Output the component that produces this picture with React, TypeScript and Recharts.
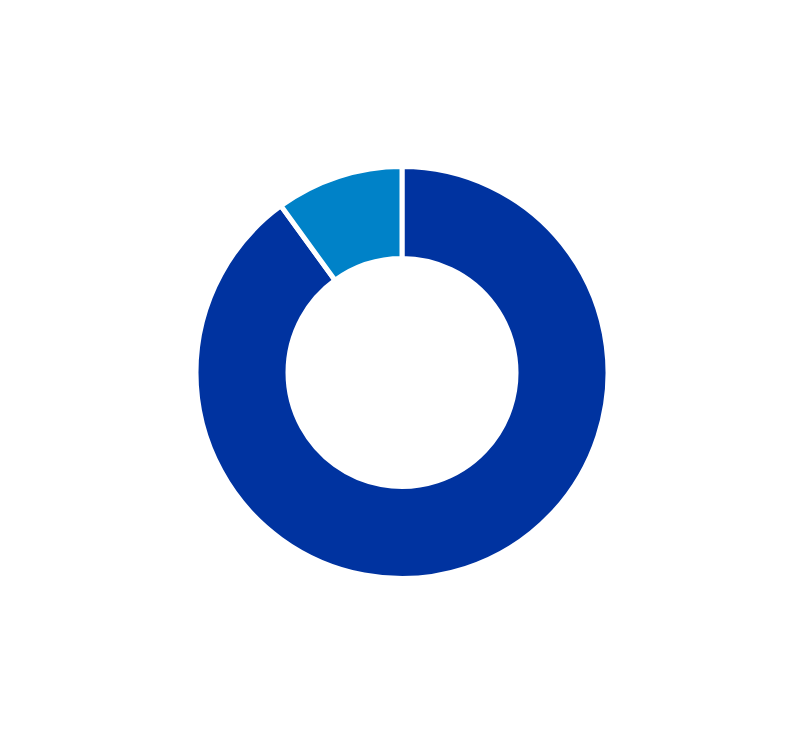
import { PieChart, Pie, Cell } from "recharts";

const labels = ["A", "B"];
const values = [90, 10];
const colors = ["#0033A0", "#0082C8"];

const data = labels.map((name, i) => ({ name, value: values[i] }));

export default function App() {
  return (
    <PieChart width={788} height={728}>
      <Pie
        data={data}
        dataKey="value"
        nameKey="name"
        cx={389}
        cy={359.5}
        innerRadius={114}
        outerRadius={206}
        startAngle={90}
        endAngle={-270}
        stroke="#ffffff"
        strokeWidth={5}
        isAnimationActive={false}
      >
        {data.map((d, i) => (
          <Cell key={d.name} fill={colors[i]} />
        ))}
      </Pie>
    </PieChart>
  );
}
